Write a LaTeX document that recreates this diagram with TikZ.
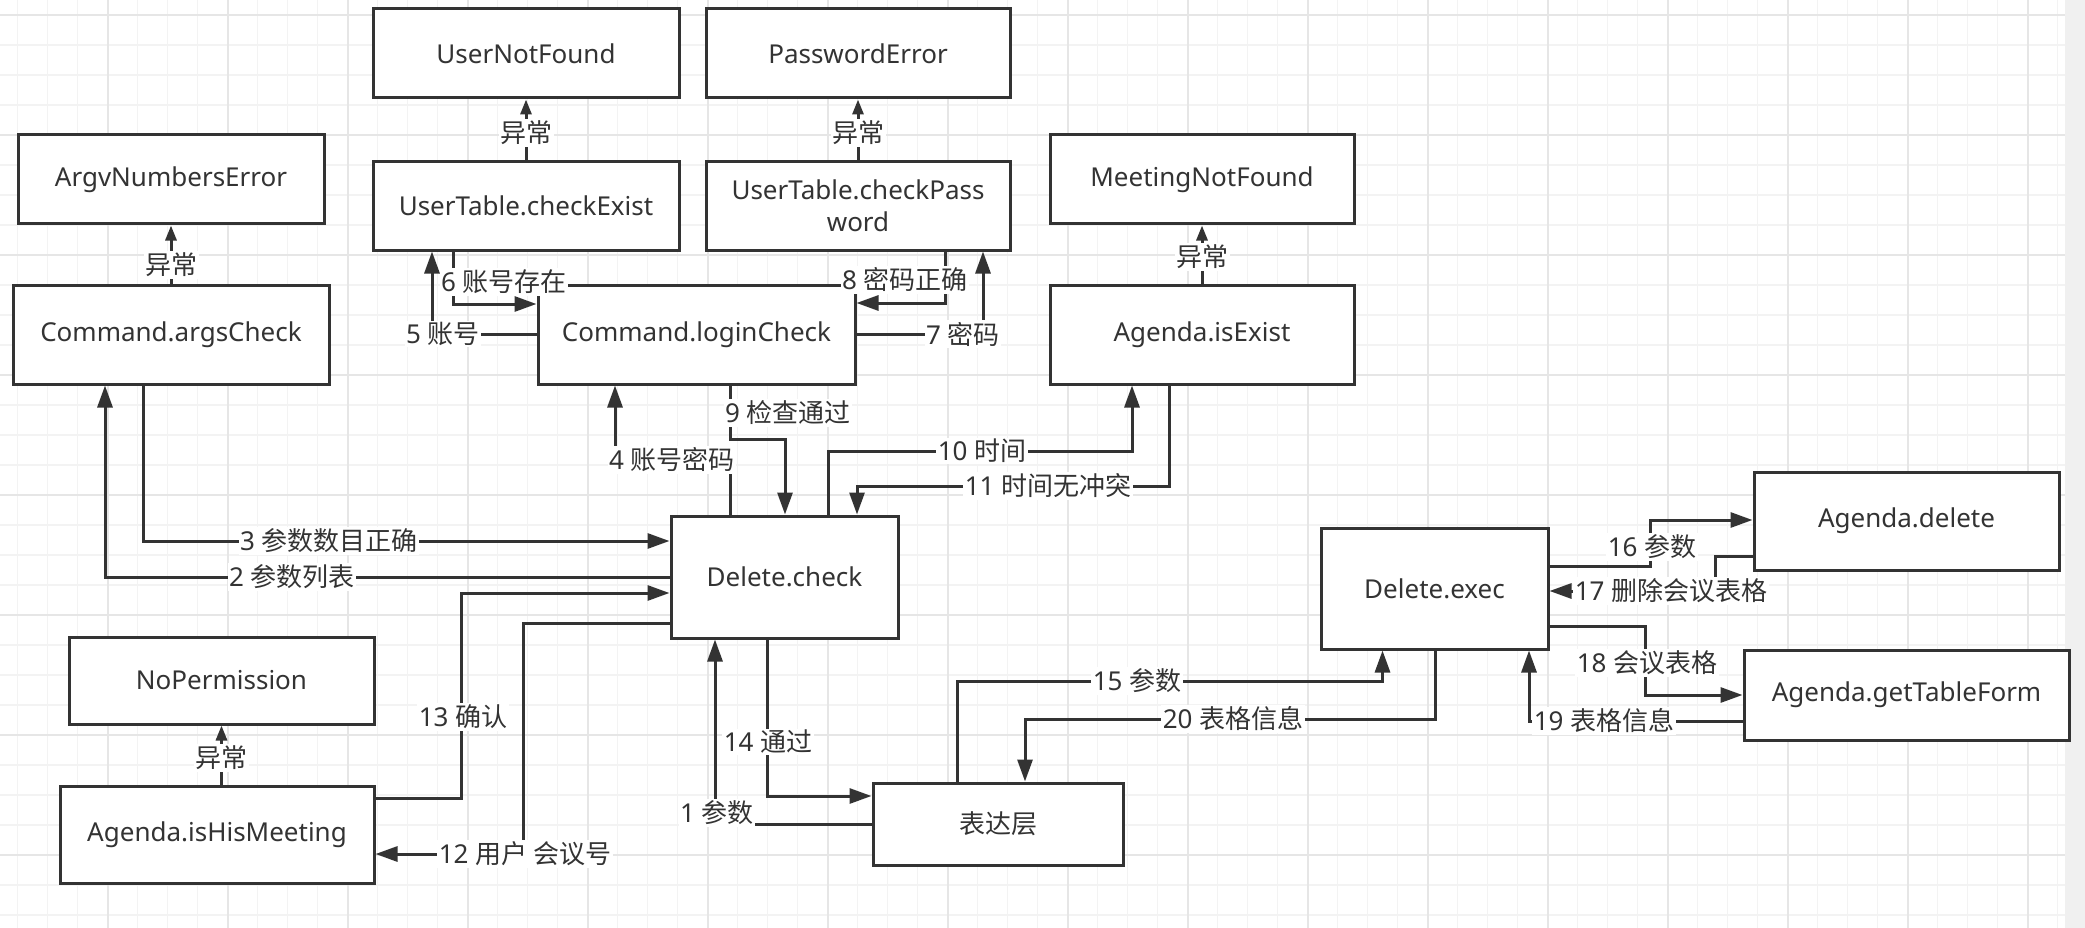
\documentclass[tikz,border=0pt]{standalone}
\usepackage{fontspec}
\setmainfont{Noto Sans}
\newfontfamily\cjk{Noto Sans CJK SC}
\usetikzlibrary{arrows.meta}
\definecolor{c33}{HTML}{333333}
\definecolor{gminor}{HTML}{F3F3F3}
\definecolor{gmajor}{HTML}{E6E6E6}
\definecolor{band}{HTML}{F0F0F0}
\tikzset{
  box/.style={draw=c33, line width=3pt, fill=white, text=c33, align=center, inner sep=2pt},
  flow/.style={draw=c33, line width=3pt, -{Triangle[length=22pt,width=15pt]}},
  exc/.style={draw=c33, line width=3pt, -{Triangle[length=15pt,width=11pt]}},
  lbl/.style={fill=white, text=c33, inner sep=1.5pt},
}
\begin{document}
\begin{tikzpicture}[x=1pt,y=-1pt,font=\fontsize{26}{32}\selectfont]
\path[use as bounding box] (0,0) rectangle (2085,928);
\fill[white] (0,0) rectangle (2065,928);
\fill[band] (2065,0) rectangle (2085,928);
\foreach \i in {0,...,68} {\draw[gminor,line width=1.5pt] (17.5+30*\i,0) -- (17.5+30*\i,928);}
\foreach \j in {0,...,30} {\draw[gminor,line width=1.5pt] (0,15+30*\j) -- (2065,15+30*\j);}
\foreach \i in {0,...,16} {\draw[gmajor,line width=2pt] (107.5+120*\i,0) -- (107.5+120*\i,928);}
\foreach \j in {0,...,7} {\draw[gmajor,line width=2pt] (0,15+120*\j) -- (2065,15+120*\j);}

% boxes
\node[box, minimum width=306pt, minimum height=89pt] (argv) at (171,179.5) {ArgvNumbersError};
\node[box, minimum width=306pt, minimum height=89pt] (unf) at (526,53.5) {UserNotFound};
\node[box, minimum width=304pt, minimum height=89pt] (pwe) at (858,53.5) {PasswordError};
\node[box, minimum width=306pt, minimum height=88pt] (ce) at (526,206) {UserTable.checkExist};
\node[box, minimum width=304pt, minimum height=88pt] (cp) at (858,206) {UserTable.checkPass\\word};
\node[box, minimum width=304pt, minimum height=89pt] (mnf) at (1202,179.5) {MeetingNotFound};
\node[box, minimum width=316pt, minimum height=99pt] (ac) at (171,334.5) {Command.argsCheck};
\node[box, minimum width=317pt, minimum height=99pt] (lc) at (696.5,334.5) {Command.loginCheck};
\node[box, minimum width=304pt, minimum height=99pt] (ie) at (1202,334.5) {Agenda.isExist};
\node[box, minimum width=227pt, minimum height=122pt] (dc) at (784.5,577) {Delete.check};
\node[box, minimum width=305pt, minimum height=87pt] (np) at (221.5,680.5) {NoPermission};
\node[box, minimum width=314pt, minimum height=97pt] (hm) at (217,834.5) {Agenda.isHisMeeting};
\node[box, minimum width=250pt, minimum height=82pt] (bd) at (998,824) {\cjk 表达层};
\node[box, minimum width=227pt, minimum height=121pt] (de) at (1434.5,588.5) {Delete.exec};
\node[box, minimum width=305pt, minimum height=98pt] (ad) at (1906.5,521) {Agenda.delete};
\node[box, minimum width=325pt, minimum height=90pt] (gt) at (1906.5,695) {Agenda.getTableForm};

% exception connectors
\draw[exc] (ac.north) -- (argv.south);
\draw[exc] (ce.north) -- (unf.south);
\draw[exc] (cp.north) -- (pwe.south);
\draw[exc] (ie.north) -- (mnf.south);
\draw[exc] (hm.north -| np.south) -- (np.south);
\node[lbl] at (171,265) {\cjk 异常};
\node[lbl] at (526,133) {\cjk 异常};
\node[lbl] at (858,133) {\cjk 异常};
\node[lbl] at (1202,257) {\cjk 异常};
\node[lbl] at (221,758) {\cjk 异常};

% flow connectors
\draw[flow] (bd.west |- 0,824) -| (dc.south -| 715,0);
\draw[flow] (dc.west |- 0,577) -| (ac.south -| 105,0);
\draw[flow] (ac.south -| 143,0) |- (dc.west |- 0,541);
\draw[flow] (dc.north -| 730,0) -- (730,460) -| (lc.south -| 615,0);
\draw[flow] (lc.west |- 0,334) -| (ce.south -| 432,0);
\draw[flow] (ce.south -| 453,0) |- (lc.west |- 0,304);
\draw[flow] (lc.east |- 0,334) -| (cp.south -| 983,0);
\draw[flow] (cp.south -| 945.5,0) |- (lc.east |- 0,303);
\draw[flow] (lc.south -| 730,0) -- (730,439) -| (dc.north -| 785,0);
\draw[flow] (dc.north -| 828,0) -- (828,451) -| (ie.south -| 1132,0);
\draw[flow] (ie.south -| 1169,0) -- (1169,486) -| (dc.north -| 857,0);
\draw[flow] (dc.west |- 0,623) -- (523,623) |- (hm.east |- 0,854);
\draw[flow] (hm.east |- 0,798) -- (461,798) |- (dc.west |- 0,593);
\draw[flow] (dc.south -| 767,0) |- (bd.west |- 0,796);
\draw[flow] (bd.north -| 957,0) -- (957,681) -| (de.south -| 1382.5,0);
\draw[flow] (de.east |- 0,566) -- (1650,566) |- (ad.west |- 0,520);
\draw[flow] (ad.west |- 0,556) -- (1715,556) |- (de.east |- 0,591);
\draw[flow] (de.east |- 0,626) -- (1645,626) |- (gt.west |- 0,695);
\draw[flow] (gt.west |- 0,721) -| (de.south -| 1529,0);
\draw[flow] (de.south -| 1435,0) -- (1435,719) -| (bd.north -| 1025,0);

% labels
\node[lbl] at (717,813) {1 \cjk 参数};
\node[lbl] at (292,577) {2 \cjk 参数列表};
\node[lbl] at (329,541) {3 \cjk 参数数目正确};
\node[lbl] at (672,460) {4 \cjk 账号密码};
\node[lbl] at (443,334) {5 \cjk 账号};
\node[lbl] at (504,282) {6 \cjk 账号存在};
\node[lbl] at (963,334) {7 \cjk 密码};
\node[lbl] at (905,280) {8 \cjk 密码正确};
\node[lbl] at (788,413) {9 \cjk 检查通过};
\node[lbl] at (982,451) {10 \cjk 时间};
\node[lbl] at (1048,486) {11 \cjk 时间无冲突};
\node[lbl] at (525,854) {12 \cjk 用户 会议号};
\node[lbl] at (463,717) {13 \cjk 确认};
\node[lbl] at (768,742) {14 \cjk 通过};
\node[lbl] at (1137,681) {15 \cjk 参数};
\node[lbl] at (1652,547) {16 \cjk 参数};
\node[lbl] at (1671,591) {17 \cjk 删除会议表格};
\node[lbl] at (1647,663) {18 \cjk 会议表格};
\node[lbl] at (1604,721) {19 \cjk 表格信息};
\node[lbl] at (1233,719) {20 \cjk 表格信息};
\end{tikzpicture}
\end{document}
